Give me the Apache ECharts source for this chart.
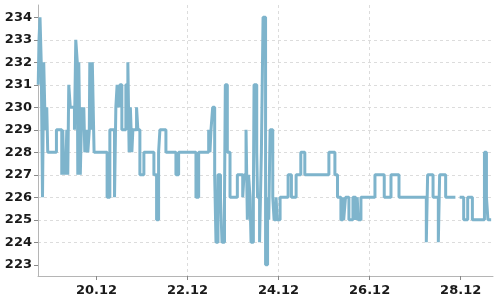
<!DOCTYPE html>
<html>
<head>
<meta charset="utf-8">
<script src="https://cdn.jsdelivr.net/npm/echarts@6/dist/echarts.min.js"></script>
<style>
html,body{margin:0;padding:0;background:#fff;}
#chart{width:500px;height:300px;}
</style>
</head>
<body>
<div id="chart"></div>
<script>
// time in fractional day of December
const times = [
 18.720, 18.737, 18.759, 18.786, 18.814, 18.841, 18.863, 18.885, 18.907, 18.929,
 19.120, 19.237, 19.259, 19.281, 19.303, 19.325, 19.347, 19.369, 19.391, 19.424,
 19.516, 19.545, 19.578, 19.589, 19.611, 19.644, 19.677, 19.699, 19.721, 19.743,
 19.776, 19.809, 19.842, 19.853, 19.886, 19.908, 19.947, 20.233, 20.293, 20.396,
 20.425, 20.453, 20.491, 20.513, 20.557, 20.645, 20.689, 20.717, 20.744, 20.777,
 20.799, 20.880, 20.909, 20.953, 21.041, 21.261, 21.320, 21.364, 21.393, 21.525,
 21.745, 21.804, 22.185, 22.244, 22.464, 22.493, 22.515, 22.552, 22.596, 22.625,
 22.669, 22.724, 22.757, 22.812, 22.830, 22.874, 22.933, 23.094, 23.212, 23.241,
 23.285, 23.314, 23.340, 23.373, 23.395, 23.446, 23.461, 23.520, 23.538, 23.582,
 23.622, 23.659, 23.714, 23.758, 23.784, 23.813, 23.872, 23.901, 23.945, 23.967,
 24.033, 24.209, 24.282, 24.385, 24.488, 24.576, 25.105, 25.237, 25.294, 25.369,
 25.413, 25.430, 25.470, 25.545, 25.633, 25.694, 25.727, 25.749, 25.809, 26.117,
 26.321, 26.469, 26.645, 27.245, 27.274, 27.393, 27.509, 27.538, 27.670, 27.846,
 27.884, 27.978, 28.066, 28.154, 28.257, 28.522, 28.566, 28.599, 28.669
];
const values = [
 231, 233, 234, 232, 226, 232, 230, 229, 230, 228,
 229, 227, 229, 227, 228, 227, 229, 227, 231, 230,
 229, 233, 232, 227, 232, 227, 230, 229, 230, 228,
 229, 228, 229, 232, 229, 232, 228, 226, 229, 226,
 230, 231, 230, 231, 229, 231, 232, 228, 230, 228,
 229, 230, 229, 227, 228, 227, 225, 228, 229, 228,
 227, 228, 226, 228, 229, 228, 229, 230, 227, 224,
 227, 226, 224, 226, 231, 228, 226, 227, 226, 227,
 229, 225, 227, 226, 224, 226, 231, 228, 226, 224,
 228, 234, 223, 226, 225, 229, 226, 225, 226, 225,
 226, 227, 226, 227, 228, 227, 228, 227, 226, 225,
 226, 225, 226, 225, 226, 225, 226, 225, 226, 227,
 226, 227, 226, 224, 227, 226, 224, 227, 226, 226,
 null, 226, 225, 226, 225, 228, 226, 225, 225
];
const xTickLabels = [20, 22, 24, 26, 28];
const yTickLabels = [223, 224, 225, 226, 227, 228, 229, 230, 231, 232, 233, 234];

const data = times.map((t, i) => [t, values[i]]);

const chart = echarts.init(document.getElementById('chart'), null, {renderer: 'canvas'});
const labelStyle = {fontFamily: 'DejaVu Sans', fontWeight: 'bold', fontSize: 13, color: '#1a1a1a'};
chart.setOption({
  animation: false,
  grid: {left: 38, right: 7, top: 5, bottom: 24, containLabel: false},
  xAxis: {
    type: 'value',
    min: 18.715, max: 28.71,
    splitNumber: 5,
    axisLine: {show: true, lineStyle: {color: '#b5b5b5', width: 1}},
    axisTick: {show: true, length: 4, lineStyle: {color: '#888'}, customValues: xTickLabels},
    axisLabel: Object.assign({margin: 8, customValues: xTickLabels,
      formatter: v => String(Math.round(v)) + '.12'}, labelStyle),
    splitLine: {show: true, showMinLine: false, showMaxLine: false,
      lineStyle: {color: '#dcdcdc', type: [3, 3], width: 1}}
  },
  yAxis: {
    type: 'value',
    min: 222.5, max: 234.55,
    splitNumber: 12,
    axisLine: {show: true, lineStyle: {color: '#b5b5b5', width: 1}},
    axisTick: {show: true, length: 4, lineStyle: {color: '#888'}, customValues: yTickLabels},
    axisLabel: Object.assign({margin: 6, customValues: yTickLabels,
      formatter: v => String(Math.round(v))}, labelStyle),
    splitLine: {show: true, showMinLine: false, showMaxLine: false,
      lineStyle: {color: '#dcdcdc', type: [3, 3], width: 1}}
  },
  series: [{
    type: 'line',
    step: 'end',
    data: data,
    showSymbol: false,
    symbol: 'none',
    connectNulls: false,
    lineStyle: {color: '#7eb4cc', width: 3},
    itemStyle: {color: '#7eb4cc'}
  }]
});
</script>
</body>
</html>
